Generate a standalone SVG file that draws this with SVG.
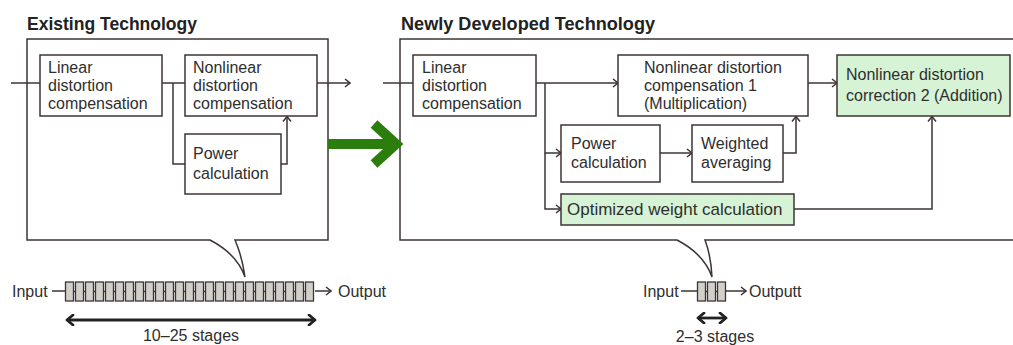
<svg xmlns="http://www.w3.org/2000/svg" width="1013" height="345" viewBox="0 0 1013 345">
<style>
text{font-family:"Liberation Sans","Noto Sans",Arial,sans-serif;font-size:16px;fill:#2e2e2e}
.title{font-weight:bold;font-size:17.5px;fill:#222}
.box{fill:#fff;stroke:#3d3535;stroke-width:1.5}
.gbox{fill:#d6f3d6;stroke:#3d3535;stroke-width:1.5}
.frame{fill:#fff;stroke:#3d3535;stroke-width:1.5}
.ln{fill:none;stroke:#3d3535;stroke-width:1.5}
.arr{fill:none;stroke:#3d3535;stroke-width:1.5;marker-end:url(#ah)}
.stg{fill:#d3d0ca;stroke:#3d3535;stroke-width:1.3}
.dbl{fill:none;stroke:#222;stroke-width:2.8;marker-start:url(#dh);marker-end:url(#dh)}
</style>
<defs>
<marker id="ah" viewBox="0 0 10 10" refX="9" refY="5" markerWidth="10" markerHeight="10" markerUnits="userSpaceOnUse" orient="auto">
<path d="M4,1 L9,5 L4,9" fill="none" stroke="#3d3535" stroke-width="1.5"/>
</marker>
<marker id="dh" viewBox="0 0 12 12" refX="10" refY="6" markerWidth="12" markerHeight="12" markerUnits="userSpaceOnUse" orient="auto-start-reverse">
<path d="M4,1 L10,6 L4,11" fill="none" stroke="#222" stroke-width="2.8" stroke-linecap="round" stroke-linejoin="round"/>
</marker>
</defs>

<text class="title" x="27" y="30" textLength="170" lengthAdjust="spacingAndGlyphs">Existing Technology</text>
<text class="title" x="401" y="30" textLength="254" lengthAdjust="spacingAndGlyphs">Newly Developed Technology</text>

<!-- callout frames -->
<g id="existing-frame">
<path class="frame" d="M27,39 H328 V240 H235 Q242,256 245,277 Q237,254 210,240 H27 Z"/>
</g>
<g id="new-frame">
<path class="frame" d="M400,39 H1020 V240 H705 Q711,256 712,277 Q704,254 677,240 H400 Z"/>
</g>

<!-- connectors -->
<g id="connectors">
<!-- existing -->
<path class="ln" d="M11,83 H40"/>
<path class="ln" d="M162,83 H185"/>
<path class="ln" d="M173,83 V164 H185"/>
<path class="arr" d="M281,164 H287 V116.5"/>
<path class="arr" d="M317,83 H350"/>
<!-- new -->
<path class="ln" d="M383,83 H413"/>
<path class="arr" d="M536,83 H618"/>
<path class="arr" d="M545,83 V153 H561"/>
<path class="arr" d="M545,153 V209 H561"/>
<path class="arr" d="M660,153 H692"/>
<path class="arr" d="M783,153 H796 V116.5"/>
<path class="arr" d="M808,83 H837"/>
<path class="arr" d="M794,209 H932 V116.5"/>
<!-- pipelines -->
<path class="ln" d="M52,291 H65"/>
<path class="arr" d="M315,291 H331"/>
<path class="ln" d="M681,291 H697"/>
<path class="arr" d="M725,291 H746"/>
<path class="dbl" d="M67,320 H315"/>
<path class="dbl" d="M698,318 H726"/>
</g>

<!-- big green arrow -->
<g id="green-arrow">
<path d="M328,144 H392" stroke="#2b7d0e" stroke-width="10" fill="none"/>
<path d="M374,124 L396,144 L374,164" stroke="#2b7d0e" stroke-width="10" fill="none" stroke-linejoin="miter" stroke-miterlimit="3"/>
</g>

<!-- existing nodes -->
<g id="ex-linear">
<rect class="box" x="40" y="55" width="122" height="61"/>
<text x="48" y="73">Linear</text>
<text x="48" y="91">distortion</text>
<text x="48" y="109">compensation</text>
</g>
<g id="ex-nonlinear">
<rect class="box" x="185" y="55" width="132" height="61"/>
<text x="193" y="73">Nonlinear</text>
<text x="193" y="91">distortion</text>
<text x="193" y="109">compensation</text>
</g>
<g id="ex-power">
<rect class="box" x="185" y="134" width="96" height="60"/>
<text x="193" y="159">Power</text>
<text x="193" y="179">calculation</text>
</g>

<!-- new nodes -->
<g id="new-linear">
<rect class="box" x="413" y="55" width="123" height="61"/>
<text x="422" y="73">Linear</text>
<text x="422" y="91">distortion</text>
<text x="422" y="109">compensation</text>
</g>
<g id="new-nl1">
<rect class="box" x="618" y="55" width="190" height="61"/>
<text x="644" y="73">Nonlinear distortion</text>
<text x="644" y="91">compensation 1</text>
<text x="644" y="109">(Multiplication)</text>
</g>
<g id="new-nl2">
<rect class="gbox" x="837" y="55" width="173" height="61"/>
<text x="846" y="80">Nonlinear distortion</text>
<text x="846" y="101">correction 2 (Addition)</text>
</g>
<g id="new-power">
<rect class="box" x="561" y="125" width="99" height="57"/>
<text x="571" y="149">Power</text>
<text x="571" y="168">calculation</text>
</g>
<g id="new-weighted">
<rect class="box" x="692" y="125" width="91" height="57"/>
<text x="701" y="149">Weighted</text>
<text x="701" y="168">averaging</text>
</g>
<g id="new-optimized">
<rect class="gbox" x="561" y="194" width="233" height="31"/>
<text x="567" y="215" style="font-size:17px">Optimized weight calculation</text>
</g>

<!-- pipelines -->
<g id="ex-pipeline">
<text x="12" y="297">Input</text>
<g>
<rect class="stg" x="65.5" y="282" width="8" height="19"/>
<rect class="stg" x="75.5" y="282" width="8" height="19"/>
<rect class="stg" x="85.5" y="282" width="8" height="19"/>
<rect class="stg" x="95.5" y="282" width="8" height="19"/>
<rect class="stg" x="105.5" y="282" width="8" height="19"/>
<rect class="stg" x="115.5" y="282" width="8" height="19"/>
<rect class="stg" x="125.5" y="282" width="8" height="19"/>
<rect class="stg" x="135.5" y="282" width="8" height="19"/>
<rect class="stg" x="145.5" y="282" width="8" height="19"/>
<rect class="stg" x="155.5" y="282" width="8" height="19"/>
<rect class="stg" x="165.5" y="282" width="8" height="19"/>
<rect class="stg" x="175.5" y="282" width="8" height="19"/>
<rect class="stg" x="185.5" y="282" width="8" height="19"/>
<rect class="stg" x="195.5" y="282" width="8" height="19"/>
<rect class="stg" x="205.5" y="282" width="8" height="19"/>
<rect class="stg" x="215.5" y="282" width="8" height="19"/>
<rect class="stg" x="225.5" y="282" width="8" height="19"/>
<rect class="stg" x="235.5" y="282" width="8" height="19"/>
<rect class="stg" x="245.5" y="282" width="8" height="19"/>
<rect class="stg" x="255.5" y="282" width="8" height="19"/>
<rect class="stg" x="265.5" y="282" width="8" height="19"/>
<rect class="stg" x="275.5" y="282" width="8" height="19"/>
<rect class="stg" x="285.5" y="282" width="8" height="19"/>
<rect class="stg" x="295.5" y="282" width="8" height="19"/>
<rect class="stg" x="305.5" y="282" width="8" height="19"/>
</g>
<path class="ln" d="M73.5,291.5 h2 M83.5,291.5 h2 M93.5,291.5 h2 M103.5,291.5 h2 M113.5,291.5 h2 M123.5,291.5 h2 M133.5,291.5 h2 M143.5,291.5 h2 M153.5,291.5 h2 M163.5,291.5 h2 M173.5,291.5 h2 M183.5,291.5 h2 M193.5,291.5 h2 M203.5,291.5 h2 M213.5,291.5 h2 M223.5,291.5 h2 M233.5,291.5 h2 M243.5,291.5 h2 M253.5,291.5 h2 M263.5,291.5 h2 M273.5,291.5 h2 M283.5,291.5 h2 M293.5,291.5 h2 M303.5,291.5 h2"/>
<text x="338" y="297">Output</text>
<text x="191" y="341" text-anchor="middle">10–25 stages</text>
</g>
<g id="new-pipeline">
<text x="643" y="297">Input</text>
<rect class="stg" x="697.5" y="282" width="8" height="19"/>
<rect class="stg" x="707.5" y="282" width="8" height="19"/>
<rect class="stg" x="717.5" y="282" width="8" height="19"/>
<path class="ln" d="M705.5,291.5 h2 M715.5,291.5 h2"/>
<text x="749" y="297">Outputt</text>
<text x="715" y="342" text-anchor="middle">2–3 stages</text>
</g>
</svg>
